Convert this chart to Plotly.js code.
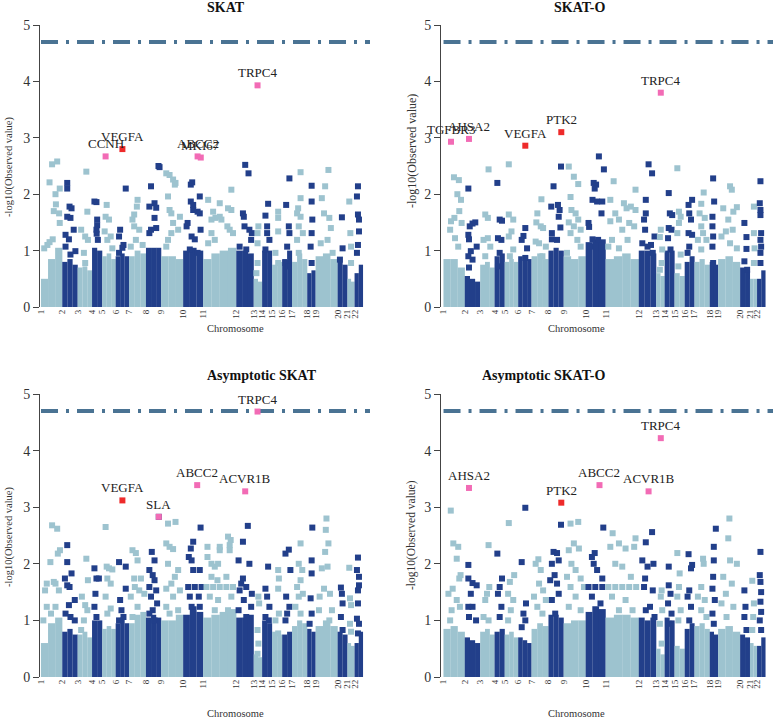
<!DOCTYPE html>
<html>
<head>
<meta charset="utf-8">
<script src="https://cdn.plot.ly/plotly-3.0.1.min.js"></script>
<style>
  html, body { margin: 0; padding: 0; background: #fff; }
  #plot { width: 774px; height: 720px; }
</style>
</head>
<body>
<div id="plot"></div>
<script>
const SERIF = '"Liberation Serif", "Times New Roman", serif';
const LIGHT = '#9dc3cf';
const DARK = '#223f8a';
const PINK = '#f26bb5';
const RED = '#ee2a2a';

// chromosome sizes (number of genes tested)
const chromosomes = ['1','2','3','4','5','6','7','8','9','10','11','12','13','14','15','16','17','18','19','20','21','22'];
const chromGenes = [210,152,142,100,133,132,167,150,217,197,327,172,83,98,100,97,150,83,217,97,70,83];
const thresholdLogP = 4.7;

// packed bulk of each chromosome: approximate top of the solid block, left to right
const coreSKAT = [[0.5,0.85,1.05],[0.8,0.85,0.75],[0.7,0.72,0.65],[1.05,1.0],[0.9,0.95,0.85],[0.9,0.95,0.9],[0.9,1.0,0.95],[1.05,1.05,1.05],[0.9,0.9,0.85],[1.0,1.05,1.0],[0.85,0.95,1.0,1.05],[1.0,1.0,0.95],[0.5,0.45],[1.0,1.0],[0.75,0.8],[0.85,1.0],[0.8,0.95,0.85],[0.6,0.65],[0.9,0.95,0.85],[0.8,0.75],[0.5,0.45],[0.6,0.75]];
const coreSKATO = [[0.85,0.85,0.7],[0.55,0.5,0.45],[0.75,0.8,0.7],[0.9,0.95],[0.8,0.85,0.8],[0.9,0.9,0.85],[0.9,0.95,0.85],[1.0,1.05,1.0],[0.9,0.85,0.9],[1.15,1.2,1.2],[0.85,0.9,0.95,0.85],[1.0,1.0,0.95],[0.6,0.55],[1.0,1.0],[0.6,0.55],[0.8,0.9],[0.8,0.85,0.75],[0.8,0.75],[0.85,0.9,0.8],[0.7,0.65],[0.5,0.5],[0.5,0.65]];
const coreAsySKAT = [[0.6,0.95,1.05],[0.8,0.85,0.75],[0.75,0.8,0.7],[1.0,1.0],[0.85,0.9,0.85],[0.95,1.05,0.95],[0.95,1.1,1.15],[1.05,1.1,1.05],[1.0,1.0,1.1],[1.1,1.25,1.15],[1.05,1.1,1.15,1.2],[1.05,1.05,1.1],[0.4,0.35],[1.0,0.95],[0.8,0.75],[0.75,0.8],[0.9,1.0,0.95],[0.85,0.8],[0.9,1.0,0.9],[0.8,0.75],[0.6,0.55],[0.6,0.8]];
const coreAsySKATO = [[0.85,0.9,0.8],[0.7,0.65,0.6],[0.8,0.85,0.75],[0.8,0.85],[0.75,0.8,0.7],[0.7,0.65,0.6],[0.85,0.95,0.9],[1.1,1.1,1.05],[0.95,1.0,1.0],[1.15,1.25,1.2],[1.05,1.1,1.1,1.05],[1.05,1.0,1.05],[0.5,0.4],[1.05,1.0],[0.55,0.5],[0.85,0.95],[0.9,0.95,0.85],[0.8,0.75],[0.85,0.9,0.8],[0.75,0.7],[0.6,0.55],[0.55,0.7]];

// genes standing out of the bulk: [position within chromosome (0-1), -log10 p]
const ptsSKAT = [
 [[0.15,1.04],[0.4,2.21],[0.52,2.53],[0.76,2.58],[0.68,2.0],[0.88,2.1],[0.7,1.82],[0.6,1.7],[0.85,1.66],[0.88,1.49],[0.55,1.2],[0.4,1.15],[0.3,1.1]],
 [[0.32,2.2],[0.32,2.1],[0.47,1.78],[0.6,1.75],[0.32,1.6],[0.53,1.58],[0.74,1.37],[0.21,1.28],[0.43,1.2],[0.85,0.99],[0.21,1.07],[0.53,0.93]],
 [[0.6,2.4],[0.67,1.69],[0.24,1.37],[0.52,1.25],[0.71,1.19],[0.43,0.96],[0.52,0.78]],
 [[0.23,1.87],[0.43,1.86],[0.5,1.55],[0.5,1.45],[0.43,1.37],[0.45,1.3],[0.57,1.19]],
 [[0.33,1.81],[0.25,1.6],[0.5,1.55],[0.18,1.34],[0.63,1.25],[0.38,1.19],[0.75,1.04]],
 [[0.75,2.1],[0.33,1.37],[0.25,1.25],[0.58,1.1],[0.5,1.05],[0.25,0.96]],
 [[0.5,1.9],[0.46,1.78],[0.3,1.64],[0.2,1.55],[0.3,1.43],[0.6,1.37],[0.4,1.19],[0.1,1.07],[0.8,1.1]],
 [[0.82,2.5],[0.89,2.48],[0.33,2.14],[0.56,1.84],[0.22,1.78],[0.67,1.76],[0.56,1.58],[0.67,1.4],[0.22,1.31],[0.33,1.37]],
 [[0.23,2.37],[0.38,2.34],[0.54,2.26],[0.65,2.2],[0.62,2.17],[0.31,1.96],[0.38,1.72],[0.46,1.66],[0.85,1.6],[0.54,1.49],[0.77,1.37],[0.46,1.31],[0.31,1.19],[0.23,1.07]],
 [[0.38,2.17],[0.45,2.21],[0.38,1.87],[0.5,1.81],[0.5,1.72],[0.72,1.69],[0.83,1.96],[0.83,1.66],[0.22,1.49],[0.17,1.43],[0.87,1.37],[0.42,1.25],[0.58,1.2],[0.33,1.02],[0.72,0.96]],
 [[0.15,1.9],[0.3,1.69],[0.37,1.58],[0.25,1.55],[0.5,1.84],[0.5,1.6],[0.55,1.55],[0.75,1.75],[0.85,2.08],[0.85,1.72],[0.73,1.43],[0.8,1.37],[0.25,1.31],[0.9,1.31],[0.35,1.19],[0.15,1.13]],
 [[0.51,2.52],[0.7,2.37],[0.38,1.66],[0.43,1.6],[0.47,1.43],[0.75,1.37],[0.89,1.31],[0.85,1.19],[0.19,1.07],[0.57,1.02]],
 [[0.55,1.43],[0.45,1.31],[0.45,1.13],[0.45,0.78],[0.32,0.6]],
 [[0.6,1.83],[0.33,1.62],[0.5,1.43],[0.5,1.31],[0.73,1.19],[0.33,1.02]],
 [[0.6,1.69],[0.6,1.58],[0.6,1.34],[0.33,0.96],[0.6,0.78]],
 [[0.73,2.28],[0.4,1.81],[0.67,1.43],[0.73,1.31],[0.5,1.07],[0.33,0.78],[0.67,0.72]],
 [[0.56,2.39],[0.56,1.93],[0.4,1.75],[0.33,1.66],[0.56,1.6],[0.44,1.43],[0.71,1.31],[0.33,1.19],[0.44,0.96]],
 [[0.52,2.15],[0.52,1.87],[0.6,1.55],[0.52,1.31],[0.4,1.07],[0.52,0.78]],
 [[0.58,2.43],[0.43,2.14],[0.28,1.93],[0.38,1.66],[0.62,1.58],[0.69,1.4],[0.54,1.19],[0.23,1.13],[0.77,0.96]],
 [[0.43,1.59],[0.5,1.04],[0.23,0.84]],
 [[0.25,1.87],[0.4,1.31],[0.5,1.07],[0.5,0.78]],
 [[0.4,2.14],[0.28,1.96],[0.4,1.64],[0.52,1.55],[0.52,1.34],[0.4,1.1],[0.28,0.96]]
];
const ptsSKATO = [
 [[0.49,2.3],[0.72,2.25],[0.65,2.0],[0.82,1.9],[0.74,1.7],[0.51,1.58],[0.35,1.52],[0.85,1.49],[0.31,1.37],[0.54,1.22],[0.69,1.07]],
 [[0.23,2.1],[0.32,1.43],[0.5,1.48],[0.68,1.5],[0.23,1.28],[0.27,1.2],[0.39,0.99],[0.77,1.07],[0.5,0.84],[0.23,0.9],[0.27,0.7]],
 [[0.58,2.44],[0.35,1.64],[0.53,1.58],[0.23,1.19],[0.53,1.22],[0.7,1.07],[0.35,0.9]],
 [[0.27,2.2],[0.5,1.55],[0.73,1.53],[0.33,1.22],[0.67,1.19],[0.5,0.96],[0.33,0.72]],
 [[0.3,2.53],[0.3,1.64],[0.63,1.55],[0.5,1.34],[0.3,1.25],[0.63,1.02],[0.38,0.9]],
 [[0.53,1.4],[0.39,1.26],[0.26,1.19],[0.66,1.04],[0.53,0.87]],
 [[0.58,1.91],[0.34,1.66],[0.28,1.5],[0.54,1.43],[0.68,1.4],[0.24,1.16],[0.44,1.13],[0.84,1.07],[0.64,0.9]],
 [[0.82,2.49],[0.33,2.14],[0.18,1.78],[0.62,1.81],[0.73,1.72],[0.67,1.6],[0.78,1.41],[0.22,1.31],[0.22,1.2],[0.56,1.19]],
 [[0.23,2.49],[0.46,2.31],[0.66,2.18],[0.31,1.95],[0.35,1.72],[0.54,1.66],[0.66,1.55],[0.23,1.5],[0.46,1.43],[0.77,1.37],[0.31,1.31],[0.62,1.19],[0.77,1.07],[0.15,0.96]],
 [[0.66,2.67],[0.91,2.44],[0.4,2.2],[0.52,2.17],[0.45,2.1],[0.34,1.9],[0.57,1.87],[0.83,1.87],[0.79,1.66],[0.14,1.49],[0.17,1.42],[0.34,1.2],[0.62,1.19],[0.22,1.07]],
 [[0.24,2.23],[0.14,1.9],[0.55,1.84],[0.63,1.75],[0.76,1.78],[0.9,1.72],[0.9,2.08],[0.29,1.66],[0.4,1.55],[0.14,1.52],[0.71,1.49],[0.5,1.37],[0.86,1.43],[0.19,1.19],[0.66,1.19],[0.4,1.04],[0.08,1.07]],
 [[0.56,2.53],[0.76,2.37],[0.4,1.9],[0.4,1.66],[0.3,1.55],[0.36,1.37],[0.9,1.25],[0.7,1.1],[0.2,1.13],[0.5,1.07],[0.8,0.96]],
 [[0.54,1.37],[0.43,1.24],[0.71,1.02],[0.64,0.78],[0.43,0.66]],
 [[0.41,2.02],[0.52,1.66],[0.76,1.63],[0.41,1.4],[0.69,1.37],[0.34,1.22],[0.59,1.02]],
 [[0.27,2.46],[0.43,1.69],[0.6,1.6],[0.43,1.49],[0.27,1.31],[0.6,0.93],[0.37,0.72]],
 [[0.39,1.81],[0.75,1.9],[0.46,1.66],[0.64,1.55],[0.39,1.31],[0.75,1.28],[0.46,1.07],[0.29,0.96]],
 [[0.6,2.03],[0.44,1.83],[0.33,1.66],[0.67,1.58],[0.44,1.43],[0.56,1.31],[0.22,1.19],[0.78,1.19],[0.44,1.02]],
 [[0.4,2.28],[0.52,1.87],[0.32,1.6],[0.32,1.43],[0.4,1.25],[0.32,1.07],[0.4,0.78]],
 [[0.54,2.14],[0.62,2.08],[0.23,1.75],[0.85,1.77],[0.69,1.69],[0.46,1.55],[0.66,1.37],[0.35,1.34],[0.15,1.25],[0.54,1.13],[0.85,1.04]],
 [[0.43,1.49],[0.64,1.24],[0.64,1.03],[0.43,0.81],[0.71,0.66]],
 [[0.55,1.78],[0.55,1.31],[0.64,1.04],[0.55,0.78]],
 [[0.4,2.23],[0.32,1.84],[0.4,1.72],[0.4,1.63],[0.48,1.31],[0.4,1.19],[0.48,1.07],[0.4,0.96],[0.4,0.78]]
];
const ptsAsySKAT = [
 [[0.52,2.68],[0.76,2.62],[0.89,2.24],[0.79,2.18],[0.44,2.03],[0.27,1.65],[0.6,1.68],[0.68,1.65],[0.19,1.53],[0.84,1.53],[0.27,1.24],[0.68,1.24],[0.11,1.0],[0.47,1.12]],
 [[0.32,2.33],[0.32,2.03],[0.17,1.74],[0.32,1.62],[0.47,1.59],[0.6,1.83],[0.43,1.27],[0.21,1.12],[0.81,1.36],[0.81,1.0],[0.53,1.06]],
 [[0.6,2.09],[0.71,1.71],[0.29,1.42],[0.52,1.27],[0.67,1.18],[0.43,1.0],[0.24,0.83]],
 [[0.23,1.92],[0.43,1.74],[0.67,1.74],[0.33,1.47],[0.23,1.24],[0.43,1.06]],
 [[0.25,2.65],[0.33,1.95],[0.5,1.92],[0.75,1.9],[0.38,1.74],[0.63,1.65],[0.25,1.42],[0.63,1.21],[0.38,1.12]],
 [[0.25,2.03],[0.75,1.95],[0.75,1.56],[0.33,1.36],[0.43,1.18],[0.58,1.06],[0.25,1.0]],
 [[0.2,2.24],[0.4,2.19],[0.5,2.06],[0.3,1.74],[0.7,1.74],[0.34,1.59],[0.6,1.53],[0.1,1.42],[0.9,1.47],[0.5,1.24],[0.2,1.06]],
 [[0.84,2.83],[0.38,2.21],[0.56,2.06],[0.22,1.89],[0.44,1.8],[0.56,1.71],[0.22,1.59],[0.67,1.53],[0.33,1.42],[0.73,1.3],[0.44,1.18],[0.22,1.12],[0.56,1.0]],
 [[0.31,2.71],[0.65,2.74],[0.23,2.36],[0.38,2.3],[0.54,2.26],[0.31,2.0],[0.77,1.89],[0.62,1.77],[0.46,1.65],[0.23,1.56],[0.85,1.53],[0.54,1.42],[0.23,1.24],[0.77,1.18],[0.38,1.12]],
 [[0.87,2.64],[0.5,2.39],[0.38,2.27],[0.28,2.12],[0.42,2.06],[0.5,1.89],[0.83,1.89],[0.25,1.59],[0.58,1.59],[0.92,1.59],[0.33,1.42],[0.78,1.42],[0.42,1.24],[0.83,1.24]],
 [[0.13,2.3],[0.13,2.12],[0.25,2.0],[0.35,1.95],[0.45,2.0],[0.5,2.24],[0.5,2.3],[0.75,2.48],[0.8,2.33],[0.8,2.24],[0.83,2.42],[0.7,1.77],[0.43,1.71],[0.25,1.77],[0.1,1.59],[0.3,1.59],[0.5,1.59],[0.7,1.59],[0.9,1.59],[0.2,1.42],[0.45,1.36],[0.85,1.42],[0.35,1.18],[0.75,1.18]],
 [[0.66,2.67],[0.38,2.39],[0.13,2.06],[0.75,2.0],[0.38,1.74],[0.28,1.65],[0.89,1.47],[0.57,1.59],[0.19,1.53],[0.43,1.36],[0.13,1.18],[0.85,1.24],[0.57,1.06]],
 [[0.55,1.42],[0.64,1.3],[0.45,0.83],[0.55,0.59],[0.45,0.41]],
 [[0.6,1.95],[0.33,1.56],[0.5,1.42],[0.73,1.24],[0.33,1.06],[0.67,1.0]],
 [[0.6,1.89],[0.67,1.74],[0.6,1.56],[0.67,1.12],[0.33,1.0],[0.6,0.77]],
 [[0.33,2.18],[0.67,2.25],[0.83,1.89],[0.4,1.42],[0.73,1.24],[0.5,1.12],[0.33,1.0]],
 [[0.56,2.36],[0.44,2.0],[0.67,1.89],[0.56,1.71],[0.33,1.59],[0.44,1.42],[0.71,1.47],[0.22,1.24],[0.56,1.12]],
 [[0.6,2.64],[0.52,2.06],[0.52,1.83],[0.4,1.39],[0.52,1.12],[0.28,0.94]],
 [[0.49,2.8],[0.46,2.6],[0.58,2.36],[0.43,2.21],[0.28,1.92],[0.54,1.95],[0.65,1.47],[0.38,1.56],[0.18,1.42],[0.74,1.18],[0.15,1.18],[0.62,1.0]],
 [[0.33,1.58],[0.43,1.47],[0.5,1.3],[0.33,1.06],[0.5,0.83]],
 [[0.25,1.93],[0.35,1.39],[0.5,1.27],[0.35,0.94],[0.5,0.8]],
 [[0.4,2.11],[0.28,1.89],[0.52,1.77],[0.52,1.62],[0.4,1.53],[0.4,1.3],[0.28,1.03],[0.52,0.94],[0.4,0.77]]
];
const ptsAsySKATO = [
 [[0.34,2.94],[0.46,2.36],[0.69,2.3],[0.62,2.09],[0.8,1.8],[0.74,1.74],[0.43,1.56],[0.23,1.47],[0.62,1.36],[0.38,1.18],[0.77,1.24],[0.31,1.0]],
 [[0.23,1.98],[0.23,1.74],[0.5,1.66],[0.77,1.62],[0.39,1.47],[0.23,1.24],[0.5,1.24],[0.27,1.06],[0.73,1.0]],
 [[0.58,2.33],[0.63,1.59],[0.47,1.47],[0.35,1.36],[0.23,1.06],[0.58,1.0]],
 [[0.27,2.18],[0.73,1.74],[0.5,1.59],[0.33,1.47],[0.67,1.24],[0.5,1.06]],
 [[0.3,2.72],[0.7,1.8],[0.38,1.68],[0.25,1.47],[0.63,1.36],[0.45,1.18],[0.25,1.0]],
 [[0.53,2.99],[0.26,2.03],[0.58,1.3],[0.39,1.12],[0.53,1.0],[0.26,0.88]],
 [[0.4,2.08],[0.24,2.0],[0.54,1.89],[0.68,1.53],[0.44,1.65],[0.14,1.42],[0.34,1.24],[0.84,1.36],[0.64,1.12]],
 [[0.82,2.69],[0.33,2.21],[0.56,2.19],[0.22,2.0],[0.67,2.06],[0.4,1.8],[0.11,1.71],[0.56,1.65],[0.67,1.47],[0.22,1.36],[0.44,1.12]],
 [[0.31,2.71],[0.66,2.74],[0.23,2.24],[0.46,2.36],[0.69,2.27],[0.35,2.0],[0.54,1.89],[0.15,1.77],[0.77,1.74],[0.31,1.59],[0.92,1.59],[0.54,1.42],[0.23,1.24],[0.77,1.18]],
 [[0.88,2.64],[0.45,2.19],[0.31,2.12],[0.4,2.0],[0.57,1.89],[0.83,1.74],[0.14,1.59],[0.48,1.59],[0.83,1.59],[0.31,1.42],[0.74,1.3]],
 [[0.21,2.54],[0.14,2.3],[0.4,2.36],[0.6,2.27],[0.9,2.45],[0.86,2.3],[0.29,2.0],[0.5,1.95],[0.76,1.77],[0.08,1.59],[0.29,1.59],[0.5,1.59],[0.71,1.59],[0.92,1.59],[0.19,1.42],[0.6,1.36],[0.4,1.18],[0.81,1.18]],
 [[0.76,2.56],[0.4,2.38],[0.2,2.06],[0.84,2.0],[0.5,1.95],[0.36,1.74],[0.3,1.59],[0.8,1.53],[0.64,1.24],[0.4,1.18],[0.9,1.06]],
 [[0.64,1.53],[0.54,1.42],[0.71,1.18],[0.43,0.94],[0.64,0.59]],
 [[0.41,1.95],[0.41,1.62],[0.59,1.47],[0.34,1.3],[0.69,1.12],[0.41,0.94]],
 [[0.27,2.19],[0.5,1.83],[0.43,1.59],[0.27,1.42],[0.6,1.18],[0.37,1.0]],
 [[0.39,2.17],[0.75,1.98],[0.64,1.92],[0.46,1.53],[0.29,1.42],[0.64,1.24],[0.46,1.0]],
 [[0.56,2.09],[0.6,2.0],[0.44,1.59],[0.22,1.42],[0.67,1.36],[0.44,1.18],[0.78,1.06]],
 [[0.72,2.62],[0.48,2.3],[0.48,2.06],[0.4,1.77],[0.32,1.56],[0.6,1.36],[0.32,1.12],[0.48,0.94]],
 [[0.51,2.8],[0.46,2.45],[0.54,2.06],[0.85,2.0],[0.23,1.77],[0.62,1.65],[0.35,1.47],[0.15,1.3],[0.69,1.24],[0.38,1.06]],
 [[0.43,1.53],[0.54,1.24],[0.43,1.06],[0.64,0.83]],
 [[0.32,1.7],[0.55,1.3],[0.45,1.06],[0.32,0.83]],
 [[0.4,2.21],[0.32,1.8],[0.4,1.68],[0.48,1.5],[0.4,1.33],[0.48,1.15],[0.32,1.0],[0.48,0.83]]
];

// labelled genes
const hitGeneSKAT = ['CCNH','VEGFA','ABCC2','MKI67','TRPC4'];
const hitChrSKAT = [5,6,10,10,13];
const hitPosSKAT = [0.25,0.5,0.72,0.88,0.45];
const hitLogPSKAT = [2.67,2.8,2.67,2.65,3.93];
const hitClassSKAT = ['new','known','new','new','new'];

const hitGeneSKATO = ['TGFBR3','AHSA2','VEGFA','PTK2','TRPC4'];
const hitChrSKATO = [1,2,6,8,13];
const hitPosSKATO = [0.35,0.27,0.53,0.84,0.54];
const hitLogPSKATO = [2.93,2.98,2.86,3.1,3.8];
const hitClassSKATO = ['new','new','known','known','new'];

const hitGeneAsySKAT = ['VEGFA','SLA','ABCC2','ACVR1B','TRPC4'];
const hitChrAsySKAT = [6,8,10,12,13];
const hitPosAsySKAT = [0.5,0.84,0.7,0.51,0.45];
const hitLogPAsySKAT = [3.12,2.83,3.39,3.28,4.69];
const hitClassAsySKAT = ['known','new','new','new','new'];

const hitGeneAsySKATO = ['AHSA2','PTK2','ABCC2','ACVR1B','TRPC4'];
const hitChrAsySKATO = [2,8,10,12,13];
const hitPosAsySKATO = [0.27,0.84,0.69,0.56,0.54];
const hitLogPAsySKATO = [3.34,3.08,3.39,3.28,4.22];
const hitClassAsySKATO = ['new','known','new','new','new'];

const chromStart = [];
chromGenes.reduce(function(acc, n) { chromStart.push(acc); return acc + n; }, 0);

function chromColor(c) { return c % 2 === 0 ? LIGHT : DARK; }

// page geometry in pixels
const W = 774, H = 720;
const panels = [
    {title: 'SKAT', core: coreSKAT, pts: ptsSKAT,
     hits: [hitGeneSKAT, hitChrSKAT, hitPosSKAT, hitLogPSKAT, hitClassSKAT],
     xa: 'x', ya: 'y', px: [40, 370], py: [307, 25], xr: [-10, 3246], titleY: 8, chromY: 329,
     ytX: 9, ytY: 167, ytSize: 10.5},
    {title: 'SKAT-O', core: coreSKATO, pts: ptsSKATO,
     hits: [hitGeneSKATO, hitChrSKATO, hitPosSKATO, hitLogPSKATO, hitClassSKATO],
     xa: 'x2', ya: 'y2', px: [441, 773], py: [307, 25], xr: [-25, 3251], titleY: 8, chromY: 329,
     ytX: 412, ytY: 151, ytSize: 12},
    {title: 'Asymptotic SKAT', core: coreAsySKAT, pts: ptsAsySKAT,
     hits: [hitGeneAsySKAT, hitChrAsySKAT, hitPosAsySKAT, hitLogPAsySKAT, hitClassAsySKAT],
     xa: 'x3', ya: 'y3', px: [40, 370], py: [677, 394], xr: [-10, 3246], titleY: 375, chromY: 713,
     ytX: 9, ytY: 537, ytSize: 10.5},
    {title: 'Asymptotic SKAT-O', core: coreAsySKATO, pts: ptsAsySKATO,
     hits: [hitGeneAsySKATO, hitChrAsySKATO, hitPosAsySKATO, hitLogPAsySKATO, hitClassAsySKATO],
     xa: 'x4', ya: 'y4', px: [441, 773], py: [677, 394], xr: [-25, 3251], titleY: 375, chromY: 713,
     ytX: 411, ytY: 535, ytSize: 11.5}
];

const traces = [];
const shapes = [];
const annotations = [];
const layout = {
    width: W, height: H,
    margin: {l: 0, r: 0, t: 0, b: 0},
    paper_bgcolor: '#fff', plot_bgcolor: '#fff',
    showlegend: false,
    font: {family: SERIF, color: '#222'}
};

panels.forEach(function(p) {
    // bulk blocks
    const bx = [], bw = [], by = [], bc = [];
    p.core.forEach(function(segs, c) {
        const w = chromGenes[c] / segs.length;
        segs.forEach(function(h, k) {
            bx.push(chromStart[c] + (k + 0.5) * w);
            bw.push(w * 1.02);
            by.push(h);
            bc.push(chromColor(c));
        });
    });
    traces.push({type: 'bar', x: bx, y: by, width: bw, base: 0,
                 marker: {color: bc, line: {width: 0}},
                 xaxis: p.xa, yaxis: p.ya, hoverinfo: 'skip'});

    // scattered genes
    const sx = [], sy = [], sc = [];
    p.pts.forEach(function(list, c) {
        list.forEach(function(pt) {
            sx.push(chromStart[c] + pt[0] * chromGenes[c]);
            sy.push(pt[1]);
            sc.push(chromColor(c));
        });
    });
    traces.push({type: 'scatter', mode: 'markers', x: sx, y: sy,
                 marker: {symbol: 'square', size: 6, color: sc, line: {width: 0}},
                 cliponaxis: false, xaxis: p.xa, yaxis: p.ya, hoverinfo: 'skip'});

    // highlighted genes
    const [genes, chr, pos, logp, cls] = p.hits;
    const hx = genes.map(function(g, i) { return chromStart[chr[i] - 1] + pos[i] * chromGenes[chr[i] - 1]; });
    traces.push({type: 'scatter', mode: 'markers', x: hx, y: logp,
                 marker: {symbol: 'square', size: 6,
                          color: cls.map(function(k) { return k === 'known' ? RED : PINK; }), line: {width: 0}},
                 cliponaxis: false, xaxis: p.xa, yaxis: p.ya, hoverinfo: 'skip'});
    genes.forEach(function(g, i) {
        annotations.push({text: g, x: hx[i], y: logp[i], xref: p.xa, yref: p.ya,
                          showarrow: false, yanchor: 'bottom', yshift: 3,
                          font: {family: SERIF, size: 13, color: '#222'}});
    });

    // significance threshold
    shapes.push({type: 'line', xref: p.xa, yref: p.ya, x0: 0, x1: p.xr[1],
                 y0: thresholdLogP, y1: thresholdLogP, layer: 'below',
                 line: {color: '#4a7393', width: 4, dash: '17px,8px,3px,8px'}});

    const xkey = 'xaxis' + p.xa.slice(1);
    const ykey = 'yaxis' + p.ya.slice(1);
    layout[xkey] = {
        domain: [p.px[0] / W, p.px[1] / W], anchor: p.ya, range: p.xr,
        showgrid: false, zeroline: false, showline: false, ticks: '',
        tickvals: chromStart, ticktext: chromosomes, tickangle: -90,
        tickfont: {family: SERIF, size: 9, color: '#333'}, automargin: false
    };
    layout[ykey] = {
        domain: [1 - p.py[0] / H, 1 - p.py[1] / H], anchor: p.xa, range: [0, 5],
        showgrid: false, zeroline: false, showline: true, linecolor: '#444', linewidth: 1,
        ticks: 'outside', ticklen: 6, tickcolor: '#444', tickvals: [0, 1, 2, 3, 4, 5],
        tickfont: {family: SERIF, size: 14, color: '#333'}, automargin: false
    };

    const cx = (p.px[0] + p.px[1]) / 2 / W;
    annotations.push({text: '<b>' + p.title + '</b>', x: cx, y: 1 - p.titleY / H,
                      xref: 'paper', yref: 'paper', showarrow: false, yanchor: 'middle',
                      font: {family: SERIF, size: 14, color: '#111'}});
    annotations.push({text: 'Chromosome', x: cx, y: 1 - p.chromY / H,
                      xref: 'paper', yref: 'paper', showarrow: false, yanchor: 'middle',
                      font: {family: SERIF, size: 10.5, color: '#333'}});
    annotations.push({text: '-log10(Observed value)', x: p.ytX / W, y: 1 - p.ytY / H,
                      xref: 'paper', yref: 'paper', showarrow: false, textangle: -90,
                      xanchor: 'center', yanchor: 'middle',
                      font: {family: SERIF, size: p.ytSize, color: '#333'}});
});

layout.shapes = shapes;
layout.annotations = annotations;

Plotly.newPlot('plot', traces, layout, {staticPlot: true});
</script>
</body>
</html>
